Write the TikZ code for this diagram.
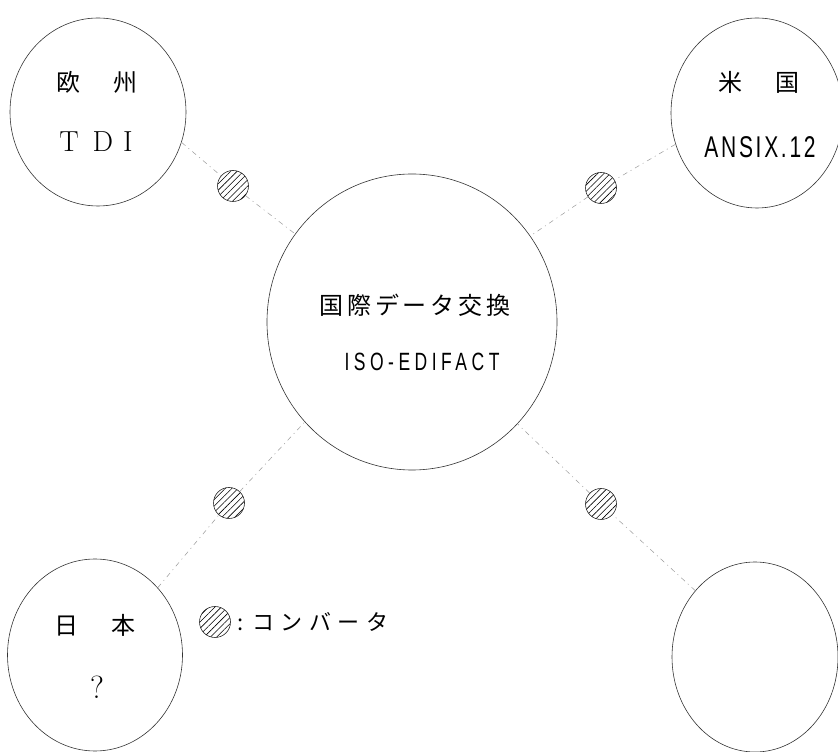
\documentclass[tikz,border=0pt]{standalone}
\usepackage{fontspec}
\usetikzlibrary{shapes.geometric,patterns.meta}
\newfontfamily\jpfont{Noto Sans CJK JP}
\newfontfamily\condfont[FakeStretch=0.7]{Liberation Sans}

\begin{document}
\begin{tikzpicture}[x=1pt, y=1pt,
  area/.style={ellipse, draw=black!80, line width=0.6pt, inner sep=0pt},
  conv/.style={circle, draw=black!85, line width=0.6pt, minimum size=31pt, inner sep=0pt,
    pattern={Lines[angle=45, distance=4.5pt, line width=0.6pt]}},
  link/.style={black!40, line width=0.5pt, dash pattern=on 5pt off 4pt on 1pt off 4pt},
  jptext/.style={font=\jpfont\fontsize{24}{24}\selectfont, inner sep=0pt}]
\useasboundingbox (0,0) rectangle (838,752);
\node[area, minimum width=176, minimum height=188] (eu) at (98,640) {};
\node[area, minimum width=172, minimum height=190] (us) at (757,639) {};
\node[area, minimum width=290, minimum height=296] (iso) at (412,430) {};
\node[area, minimum width=175, minimum height=192] (jp) at (95,97) {};
\node[area, minimum width=166, minimum height=190] (other) at (755,95) {};
\node[conv] (cvA) at (233,566) {};
\node[conv] (cvB) at (601,564) {};
\node[conv] (cvC) at (229,249) {};
\node[conv] (cvD) at (601,248) {};
\node[conv] (cvkey) at (215,130) {};
\draw[link] (eu.-20) -- (cvA) -- (iso.143);
\draw[link] (us.-159) -- (cvB) -- (iso.36);
\draw[link] (jp.47) -- (cvC) -- (iso.-137);
\draw[link] (other.132) -- (cvD) -- (iso.-44);
\node[jptext] (euname) at (97,670) {欧\hspace{33pt}州};
\node[font=\fontsize{29}{29}\selectfont, inner sep=0pt] (eucode) at (96,610) {T\hspace{14pt}D\hspace{10pt}I};
\node[jptext] (usname) at (759,670) {米\hspace{33pt}国};
\node[font=\condfont\fontsize{30}{30}\selectfont\addfontfeature{LetterSpace=9}, inner sep=0pt] (uscode) at (760,605) {ANSIX.12};
\node[jptext, font=\jpfont\fontsize{24}{24}\selectfont\addfontfeature{LetterSpace=16}] (isoname) at (415,447) {国際データ交換};
\node[font=\condfont\fontsize{25}{25}\selectfont\addfontfeature{LetterSpace=18}, inner sep=0pt] (isocode) at (422,390) {ISO-EDIFACT};
\node[jptext] (jpname) at (95,127) {日\hspace{33pt}本};
\node[font=\fontsize{32}{32}\selectfont, inner sep=0pt] (jpcode) at (97,65) {?};
\node[font=\jpfont\fontsize{22}{22}\selectfont\addfontfeature{LetterSpace=30}, inner sep=0pt, anchor=west, xshift=6pt] (keytext) at (cvkey.east) {:\hspace{9pt}コンバータ};
\end{tikzpicture}
\end{document}
